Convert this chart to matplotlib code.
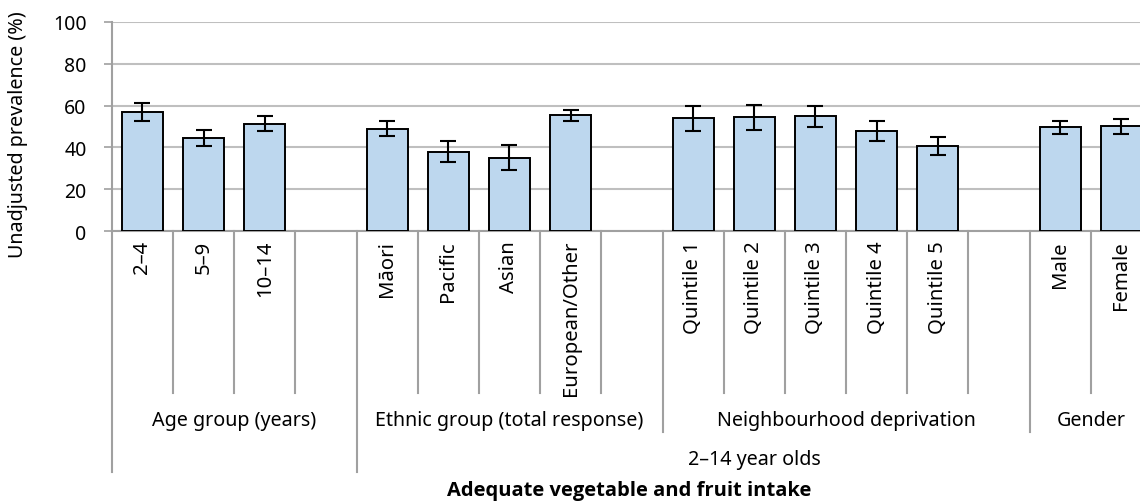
import numpy as np
import matplotlib
matplotlib.use("Agg")
import matplotlib.pyplot as plt
from matplotlib.transforms import blended_transform_factory

plt.rcParams['font.family'] = ['Noto Sans', 'DejaVu Sans']

# data ('' = empty spacer slot)
categories = ['2–4', '5–9', '10–14', '',
              'Māori', 'Pacific', 'Asian', 'European/Other', '',
              'Quintile 1', 'Quintile 2', 'Quintile 3', 'Quintile 4', 'Quintile 5', '',
              'Male', 'Female']
values = [56.9, 44.7, 51.4, np.nan,
          48.8, 37.8, 34.9, 55.4, np.nan,
          54.1, 54.4, 54.9, 47.8, 40.7, np.nan,
          49.6, 50.2]
ci_low = [52.6, 40.9, 47.7, np.nan,
          45.3, 32.9, 29.2, 52.5, np.nan,
          47.8, 48.2, 50.0, 43.1, 36.2, np.nan,
          46.4, 46.6]
ci_high = [61.2, 48.3, 54.9, np.nan,
           52.8, 42.9, 41.0, 58.1, np.nan,
           59.8, 60.1, 59.7, 52.5, 45.0, np.nan,
           52.6, 53.6]
groups = ['Age group (years)', 'Ethnic group (total response)',
          'Neighbourhood deprivation', 'Gender']
group_sizes = [4, 5, 6, 2]
top_groups = ['', '2–14 year olds']
top_sizes = [4, 13]
title = 'Adequate vegetable and fruit intake'

W, H = 1140, 502
fig = plt.figure(figsize=(W / 100, H / 100), dpi=100)

# axes placed in pixel terms; right edge runs past the figure (cropped like the original)
x0, x1 = 111.7, 111.7 + 17 * 61.2
ytop, ybot = 22.7, 232.3
ax = fig.add_axes([x0 / W, 1 - ybot / H, (x1 - x0) / W, (ybot - ytop) / H])

x = np.arange(len(categories))
vals = np.array(values)
lo = np.array(ci_low)
hi = np.array(ci_high)
ax.bar(x, vals, width=0.67, color='#BDD7EE', edgecolor='black', linewidth=1.4, zorder=3)
ax.errorbar(x, vals, yerr=[vals - lo, hi - vals], fmt='none', ecolor='black',
            elinewidth=1.5, capsize=5.5, capthick=1.5, zorder=4)

ax.set_xlim(-0.5, len(categories) - 0.5)
ax.set_ylim(0, 100)
ax.set_yticks(range(0, 101, 20))
ax.yaxis.grid(True, color='#BFBFBF', linewidth=1.5, zorder=0)
ax.set_axisbelow(True)
for s in ['top', 'right']:
    ax.spines[s].set_visible(False)
ax.spines['left'].set_color('#A0A0A0')
ax.spines['bottom'].set_color('#A0A0A0')
ax.spines['left'].set_linewidth(1.5)
ax.spines['bottom'].set_linewidth(1.5)
ax.tick_params(axis='y', length=6, color='#A0A0A0', width=1.2, labelsize=14, pad=12)
ax.tick_params(axis='x', length=0, labelbottom=False)

fs = 14.2
tr = blended_transform_factory(ax.transData, fig.transFigure)


def fy(p):
    return 1 - p / H


# category labels (rotated)
for i, c in enumerate(categories):
    if c:
        ax.text(i, fy(241), c, rotation=90, ha='center', va='top', transform=tr,
                fontsize=14.6)

# separators between categories
level2_edges = np.cumsum(group_sizes)[:-1] - 0.5
level3_edges = [-0.5] + list(np.cumsum(top_sizes)[:-1] - 0.5)
for k in range(len(categories)):
    e = k - 0.5
    if e in level3_edges:
        bottom = 473
    elif e in level2_edges:
        bottom = 433
    else:
        bottom = 394
    ax.plot([e, e], [fy(ybot), fy(bottom)], color='#A0A0A0', linewidth=1.5,
            transform=tr, clip_on=False)

# group labels
start = 0
for g, n in zip(groups, group_sizes):
    ax.text(start + (n - 1) / 2, fy(421), g, ha='center', va='center',
            transform=tr, fontsize=fs)
    start += n
start = 0
for g, n in zip(top_groups, top_sizes):
    if g:
        ax.text(start + (n - 1) / 2, fy(460), g, ha='center', va='center',
                transform=tr, fontsize=fs)
    start += n

fig.text(629 / W, fy(491), title, ha='center', va='center', fontsize=14.5,
         fontweight='bold', family=['Open Sans', 'DejaVu Sans'])
fig.text(18 / W, fy(135), 'Unadjusted prevalence (%)', rotation=90,
         ha='center', va='center', fontsize=fs)

fig.savefig('out.png', dpi=100)
